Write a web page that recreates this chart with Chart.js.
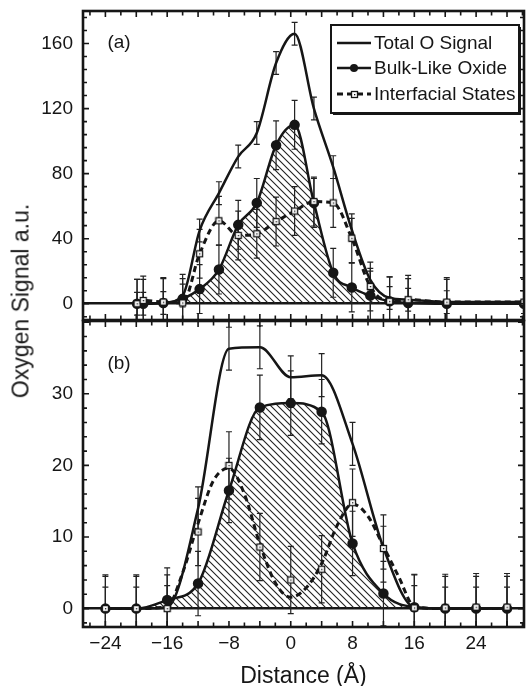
<!DOCTYPE html>
<html>
<head>
<meta charset="utf-8">
<script src="https://cdn.jsdelivr.net/npm/chart.js@4.4.0/dist/chart.umd.min.js"></script>
<style>
  html, body { margin: 0; padding: 0; background: #fff; }
  #wrap { position: relative; width: 526px; height: 686px; overflow: hidden; }
  canvas { position: absolute; left: 0; }
  #chartA { top: 0; }
  #chartB { top: 310px; }
  #ytitle {
    position: absolute; left: 21px; top: 301px;
    transform: translate(-50%, -50%) rotate(-90deg);
    font: 23px "Liberation Sans", Arial, sans-serif; color: #1a1a1a; white-space: nowrap;
  }
</style>
</head>
<body>
<div id="wrap">
  <canvas id="chartA" width="526" height="330"></canvas>
  <canvas id="chartB" width="526" height="376"></canvas>
  <div id="ytitle">Oxygen Signal a.u.</div>
</div>
<script>
const seriesNames = ["Total O Signal", "Bulk-Like Oxide", "Interfacial States"];

// panel (a)
const distA = [-19.9, -19.1, -16.5, -14.0, -11.8, -9.3, -6.8, -4.4, -1.9, 0.5, 3.0, 5.5, 7.9, 10.3, 12.8, 15.2, 20.2, 30.2];
const totalA = [0, 0, 0.5, 5, 45, 68, 90.5, 105, 148, 166, 120, 84, 45.5, 14.7, 3.5, 2.5, 1, 1];
const bulkA = [0, 0, 0.5, 3, 9, 21, 48.5, 62, 97.5, 110, 62, 19, 10, 5, 1.5, 0.5, 0, 0];
const interA = [0, 2, 1, 0.5, 30.7, 51, 42, 43, 50.5, 57, 62.8, 62, 40.3, 10.6, 1.5, 2.5, 1, 1];
const totalErrA = [7, 7, 7, 7, 7, 7, 7, 7, 7, 7, 7, 7, 7, 7, 7, 7, 7, 7];
const bulkErrA = [15, 15, 15, 15, 15, 15, 15, 15, 15, 15, 15, 15, 15, 15, 15, 15, 15, 15];
const interErrA = [15, 15, 15, 15, 15, 15, 15, 15, 15, 15, 15, 15, 15, 15, 15, 15, 15, 15];

// panel (b)
const distB = [-24, -20, -16, -12, -8, -4, 0, 4, 8, 12, 16, 20, 24, 28];
const totalB = [0, 0, 0.2, 14, 36.3, 36.5, 32.3, 32.6, 23, 8.5, 0.2, 0, 0, 0];
const bulkB = [0, 0, 1.2, 3.5, 16.5, 28.1, 28.7, 27.5, 9.1, 2.1, 0.2, 0, 0, 0];
const interB = [0, 0, 0, 10.7, 20, 8.6, 4, 5.5, 14.8, 8.4, 0.1, 0.1, 0.2, 0.2];
const totalErrB = [3, 3, 3, 3, 3, 3, 3, 3, 3, 3, 3, 3, 3, 3];
const bulkErrB = [4.5, 4.5, 4.5, 4.5, 4.5, 4.5, 4.5, 4.5, 4.5, 4.5, 4.5, 4.5, 4.5, 4.5];
const interErrB = [4.7, 4.7, 4.7, 4.7, 4.7, 4.7, 4.7, 4.7, 4.7, 4.7, 4.7, 4.7, 4.7, 4.7];
// dashed fit curve through the interfacial states in (b)
const fitDistB = [-24, -20, -16, -14, -12, -10, -8, -6, -4, -2, 0, 2, 4, 6, 8, 10, 12, 14, 16, 20, 24, 28];
const interFitB = [0, 0, 0.3, 5, 11.9, 17.9, 19.6, 16, 9, 3.6, 1.6, 2.9, 6.3, 11.6, 14.6, 12.9, 8.7, 4.4, 0.3, 0, 0, 0];

const xTickStep = 8;
const INK = "#161616";
Chart.defaults.font.family = '"Liberation Sans", Arial, Helvetica, sans-serif';
Chart.defaults.color = INK;

const pts = (xs, ys) => xs.map((x, i) => ({ x: x, y: ys[i] }));
const noPad = s => { s.paddingTop = 0; s.paddingBottom = 0; s.paddingLeft = 0; s.paddingRight = 0; };

function hatchPattern(ctx) {
  const s = 7;
  const c = document.createElement("canvas");
  c.width = s; c.height = s;
  const g = c.getContext("2d");
  g.strokeStyle = "#222";
  g.lineWidth = 1.1;
  g.beginPath();
  g.moveTo(0, 0); g.lineTo(s, s);
  g.moveTo(-1, s - 1); g.lineTo(1, s + 1);
  g.moveTo(s - 1, -1); g.lineTo(s + 1, 1);
  g.stroke();
  return ctx.createPattern(c, "repeat");
}

function squareMarker() {
  const c = document.createElement("canvas");
  c.width = 9; c.height = 9;
  const g = c.getContext("2d");
  g.fillStyle = "#fff";
  g.fillRect(1, 1, 7, 7);
  g.strokeStyle = INK;
  g.lineWidth = 1.3;
  g.strokeRect(1.5, 1.5, 6, 6);
  g.fillStyle = INK;
  g.fillRect(4, 4, 1.3, 1.3);
  return c;
}
const squareImg = squareMarker();

// vertical error bars, taken from dataset.errors
const errorBars = {
  id: "errorBars",
  beforeDatasetsDraw(chart) {
    const ctx = chart.ctx, ys = chart.scales.y, a = chart.chartArea;
    ctx.save();
    ctx.beginPath();
    ctx.rect(a.left, a.top, a.right - a.left, a.bottom - a.top);
    ctx.clip();
    ctx.strokeStyle = "#222";
    ctx.lineWidth = 1.2;
    chart.data.datasets.forEach((ds, i) => {
      if (!ds.errors) return;
      chart.getDatasetMeta(i).data.forEach((pt, j) => {
        const v = ds.data[j].y, e = ds.errors[j];
        const y1 = ys.getPixelForValue(v + e), y2 = ys.getPixelForValue(v - e);
        ctx.beginPath();
        ctx.moveTo(pt.x, y1); ctx.lineTo(pt.x, y2);
        ctx.moveTo(pt.x - 3, y1); ctx.lineTo(pt.x + 3, y1);
        ctx.moveTo(pt.x - 3, y2); ctx.lineTo(pt.x + 3, y2);
        ctx.stroke();
      });
    });
    ctx.restore();
  }
};

// box frame with inward ticks on all sides, plus panel letter
const frame = {
  id: "frame",
  afterDraw(chart, args, opts) {
    const ctx = chart.ctx, a = chart.chartArea;
    const xs = chart.scales.x, ys = chart.scales.y;
    ctx.save();
    ctx.strokeStyle = INK;
    ctx.lineWidth = 1.6;
    ctx.beginPath();
    for (let v = Math.ceil(xs.min / 2) * 2; v <= xs.max; v += 2) {
      const p = xs.getPixelForValue(v);
      const len = v % 4 === 0 ? 6 : 4.5;
      ctx.moveTo(p, a.top); ctx.lineTo(p, a.top + len);
      ctx.moveTo(p, a.bottom); ctx.lineTo(p, a.bottom - len);
    }
    for (let v = Math.ceil(ys.min / opts.minor) * opts.minor; v <= ys.max; v += opts.minor) {
      const p = ys.getPixelForValue(v);
      const len = Math.abs(v % opts.major) < 1e-6 ? 6 : 4;
      ctx.moveTo(a.left, p); ctx.lineTo(a.left + len, p);
      ctx.moveTo(a.right, p); ctx.lineTo(a.right - len, p);
    }
    ctx.stroke();
    ctx.lineWidth = 2.6;
    ctx.strokeRect(a.left, a.top, a.right - a.left, a.bottom - a.top);
    ctx.fillStyle = INK;
    ctx.font = '19px "Liberation Sans", Arial, sans-serif';
    ctx.textAlign = "center";
    ctx.textBaseline = "middle";
    ctx.fillText(opts.letter, a.left + 36, a.top + opts.letterDy);
    ctx.restore();
  }
};

// framed legend with line samples, as in the figure
const boxLegend = {
  id: "boxLegend",
  afterDraw(chart, args, opts) {
    if (!opts.show) return;
    const ctx = chart.ctx, a = chart.chartArea;
    const l = a.right - 193, t = a.top + 14, w = 188, h = 88;
    ctx.save();
    ctx.fillStyle = INK;
    ctx.fillRect(l + 2, t + 2, w, h);
    ctx.fillStyle = "#fff";
    ctx.fillRect(l, t, w, h);
    ctx.strokeStyle = INK;
    ctx.lineWidth = 2;
    ctx.strokeRect(l, t, w, h);
    const rows = [t + 18, t + 43, t + 69];
    const x0 = l + 6, x1 = l + 40;
    chart.data.datasets.slice(0, 3).forEach((ds, i) => {
      const y = rows[i];
      ctx.strokeStyle = INK;
      ctx.lineWidth = ds.borderWidth;
      ctx.setLineDash(ds.borderDash || []);
      ctx.beginPath(); ctx.moveTo(x0, y); ctx.lineTo(x1, y); ctx.stroke();
      ctx.setLineDash([]);
      const cx = (x0 + x1) / 2;
      if (ds.pointStyle === "circle" && ds.pointRadius > 0) {
        ctx.fillStyle = INK;
        ctx.beginPath(); ctx.arc(cx, y, 4, 0, Math.PI * 2); ctx.fill();
      } else if (ds.pointStyle instanceof HTMLCanvasElement) {
        ctx.drawImage(ds.pointStyle, Math.round(cx - 4.5), Math.round(y - 4.5));
      }
      ctx.fillStyle = INK;
      ctx.font = '19px "Liberation Sans", Arial, sans-serif';
      ctx.textAlign = "left";
      ctx.textBaseline = "middle";
      ctx.fillText(seriesNames[i], l + 43, y + 1);
    });
    ctx.restore();
  }
};

function makeChart(id, cfg) {
  const canvas = document.getElementById(id);
  const ctx = canvas.getContext("2d");
  const lineBase = { borderColor: INK, cubicInterpolationMode: "monotone" };
  const datasets = [
    Object.assign({}, lineBase, {
      label: seriesNames[0], data: pts(cfg.dist, cfg.total), errors: cfg.totalErr,
      borderWidth: 2.5, pointRadius: 0, pointStyle: "circle", order: 2
    }),
    Object.assign({}, lineBase, {
      label: seriesNames[1], data: pts(cfg.dist, cfg.bulk), errors: cfg.bulkErr,
      borderWidth: 2.5, pointRadius: 4, pointStyle: "circle",
      pointBackgroundColor: INK, pointBorderColor: INK,
      fill: "origin", backgroundColor: hatchPattern(ctx), order: 1
    }),
    Object.assign({}, lineBase, {
      label: seriesNames[2], data: pts(cfg.dist, cfg.inter), errors: cfg.interErr,
      borderWidth: 3, borderDash: [6, 4], pointStyle: squareImg, pointRadius: 5,
      showLine: !cfg.fit, order: 0
    })
  ];
  if (cfg.fit) {
    datasets.push(Object.assign({}, lineBase, {
      label: seriesNames[2] + " fit", data: pts(cfg.fit.x, cfg.fit.y),
      borderWidth: 3, borderDash: [6, 4], pointRadius: 0, order: 0.5
    }));
  }
  return new Chart(canvas, {
    type: "line",
    data: { datasets: datasets },
    options: {
      responsive: false,
      animation: false,
      devicePixelRatio: 1,
      layout: { padding: cfg.padding, autoPadding: false },
      plugins: {
        legend: { display: false },
        tooltip: { enabled: false },
        frame: { letter: cfg.letter, letterDy: cfg.letterDy, minor: cfg.yMinor, major: cfg.yStep },
        boxLegend: { show: cfg.showLegend }
      },
      scales: {
        x: {
          type: "linear", min: -26.9, max: 30.2, display: cfg.showX,
          afterFit: s => { noPad(s); if (cfg.showX) s.height = cfg.xHeight; },
          grid: { display: false, drawTicks: false },
          border: { display: false },
          ticks: {
            stepSize: xTickStep, includeBounds: false, padding: 5,
            font: { size: 19 }, color: INK,
            callback: v => (v < 0 ? "\u2212" + Math.abs(v) : String(v))
          },
          title: {
            display: cfg.showX, text: "Distance (\u00c5)", color: INK,
            font: { size: 23, lineHeight: 0.85 }, padding: { top: 2, bottom: 0 }
          }
        },
        y: {
          type: "linear", min: cfg.yMin, max: cfg.yMax,
          afterFit: s => { s.width = 83; noPad(s); },
          afterBuildTicks: s => { s.ticks = s.ticks.filter(t => t.value <= cfg.yTop); },
          grid: {
            drawTicks: false, lineWidth: 2.5,
            color: c => (c.tick && c.tick.value === 0 ? INK : "rgba(0,0,0,0)")
          },
          border: { display: false },
          ticks: { stepSize: cfg.yStep, includeBounds: false, padding: 10, font: { size: 19 }, color: INK }
        }
      }
    },
    plugins: [errorBars, frame, boxLegend]
  });
}

makeChart("chartA", {
  dist: distA, total: totalA, bulk: bulkA, inter: interA,
  totalErr: totalErrA, bulkErr: bulkErrA, interErr: interErrA,
  yMin: -10, yMax: 180, yStep: 40, yMinor: 8, yTop: 160,
  padding: { top: 11, right: 2, bottom: 10, left: 0 },
  letter: "(a)", letterDy: 32, showLegend: true, showX: false, xHeight: 0
});

makeChart("chartB", {
  dist: distB, total: totalB, bulk: bulkB, inter: interB,
  totalErr: totalErrB, bulkErr: bulkErrB, interErr: interErrB,
  fit: { x: fitDistB, y: interFitB },
  yMin: -2.57, yMax: 40.17, yStep: 10, yMinor: 2, yTop: 30,
  padding: { top: 11, right: 2, bottom: 0, left: 0 },
  letter: "(b)", letterDy: 43, showLegend: false, showX: true, xHeight: 59
});
</script>
</body>
</html>
